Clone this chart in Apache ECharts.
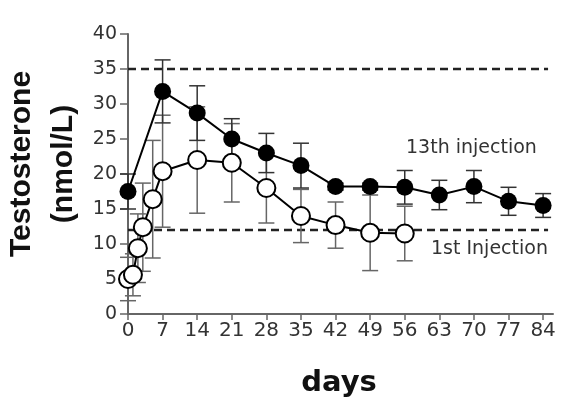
<!DOCTYPE html>
<html>
<head>
<meta charset="utf-8">
<script src="https://cdn.jsdelivr.net/npm/echarts@6/dist/echarts.min.js"></script>
<style>
  html, body { margin: 0; padding: 0; background: #fff; }
  #main { width: 567px; height: 401px; }
</style>
</head>
<body>
<div id="main"></div>
<script>
// 13th injection (filled circles)
var daysLate = [0, 7, 14, 21, 28, 35, 42, 49, 56, 63, 70, 77, 84];
var meanLate = [17.5, 31.8, 28.7, 25.0, 23.0, 21.2, 18.2, 18.2, 18.1, 17.0, 18.2, 16.1, 15.5];
var errLate  = [2.5, 4.5, 3.9, 2.9, 2.8, 3.2, 0.5, 0.5, 2.4, 2.1, 2.3, 2.0, 1.7];

// 1st injection (open circles)
var daysFirst = [0, 1, 2, 3, 5, 7, 14, 21, 28, 35, 42, 49, 56];
var meanFirst = [5.0, 5.6, 9.4, 12.4, 16.4, 20.4, 22.0, 21.6, 18.0, 14.0, 12.7, 11.6, 11.5];
var errFirst  = [3.1, 3.0, 4.9, 6.3, 8.4, 8.0, 7.6, 5.6, 5.0, 3.8, 3.3, 5.4, 3.9];

// reference range (dashed lines)
var rangeHigh = 35;
var rangeLow = 12;
var rangeDays = [0, 85];

var xTicks = [0, 7, 14, 21, 28, 35, 42, 49, 56, 63, 70, 77, 84];

function pairs(xs, ys) {
  return xs.map(function (x, i) { return [x, ys[i]]; });
}
function bars(xs, ys, es) {
  return xs.map(function (x, i) { return [x, ys[i] - es[i], ys[i] + es[i]]; });
}

function makeBar(color) {
  return function (params, api) {
    var x = api.value(0);
    var lo = api.coord([x, api.value(1)]);
    var hi = api.coord([x, api.value(2)]);
    var w = 8;
    var st = { stroke: color, lineWidth: 1.5 };
    return {
      type: 'group',
      children: [
        { type: 'line', shape: { x1: lo[0], y1: lo[1], x2: hi[0], y2: hi[1] }, style: st },
        { type: 'line', shape: { x1: lo[0] - w, y1: lo[1], x2: lo[0] + w, y2: lo[1] }, style: st },
        { type: 'line', shape: { x1: hi[0] - w, y1: hi[1], x2: hi[0] + w, y2: hi[1] }, style: st }
      ]
    };
  };
}

var chart = echarts.init(document.getElementById('main'));
chart.setOption({
  animation: false,
  backgroundColor: '#fff',
  grid: { left: 128, right: 14, top: 34, bottom: 87 },
  xAxis: {
    type: 'value',
    min: 0,
    max: 86,
    splitLine: { show: false },
    axisLine: { lineStyle: { color: '#666', width: 2 } },
    axisTick: { length: 6, customValues: xTicks, lineStyle: { color: '#666', width: 1.5 } },
    axisLabel: {
      customValues: xTicks,
      margin: 7,
      color: '#333',
      fontSize: 20,
      fontFamily: 'DejaVu Sans'
    }
  },
  yAxis: {
    type: 'value',
    min: 0,
    max: 40,
    interval: 5,
    splitLine: { show: false },
    axisLine: { show: true, lineStyle: { color: '#666', width: 2 } },
    axisTick: { show: true, length: 8, lineStyle: { color: '#666', width: 1.5 } },
    axisLabel: {
      margin: 11,
      color: '#333',
      fontSize: 19,
      fontFamily: 'DejaVu Sans'
    }
  },
  graphic: [
    {
      type: 'text', x: 43, y: 164, rotation: Math.PI / 2,
      style: {
        text: 'Testosterone\n(nmol/L)',
        fontSize: 30, fontWeight: 'bold', fontFamily: 'Liberation Sans',
        lineHeight: 42, fill: '#111', align: 'center', verticalAlign: 'middle'
      }
    },
    {
      type: 'text', x: 339, y: 383,
      style: {
        text: 'days', fontSize: 29, fontWeight: 'bold', fontFamily: 'DejaVu Sans',
        fill: '#111', align: 'center', verticalAlign: 'middle'
      }
    },
    {
      type: 'text', x: 406, y: 148,
      style: {
        text: '13th injection', fontSize: 19, fontFamily: 'DejaVu Sans',
        fill: '#333', align: 'left', verticalAlign: 'middle'
      }
    },
    {
      type: 'text', x: 431, y: 249,
      style: {
        text: '1st Injection', fontSize: 19, fontFamily: 'DejaVu Sans',
        fill: '#333', align: 'left', verticalAlign: 'middle'
      }
    }
  ],
  series: [
    {
      type: 'line', symbol: 'none', silent: true, z: 1,
      data: pairs(rangeDays, [rangeHigh, rangeHigh]),
      lineStyle: { color: '#222', width: 2.5, type: [8, 5] }
    },
    {
      type: 'line', symbol: 'none', silent: true, z: 1,
      data: pairs(rangeDays, [rangeLow, rangeLow]),
      lineStyle: { color: '#222', width: 2.5, type: [8, 5] }
    },
    {
      type: 'custom', z: 2,
      renderItem: makeBar('#666'),
      encode: { x: 0, y: [1, 2] },
      data: bars(daysFirst, meanFirst, errFirst)
    },
    {
      type: 'custom', z: 2,
      renderItem: makeBar('#333'),
      encode: { x: 0, y: [1, 2] },
      data: bars(daysLate, meanLate, errLate)
    },
    {
      name: '1st Injection', type: 'line', z: 3,
      data: pairs(daysFirst, meanFirst),
      symbol: 'circle', symbolSize: 18, showAllSymbol: true,
      lineStyle: { color: '#000', width: 2 },
      itemStyle: { color: '#fff', borderColor: '#000', borderWidth: 2 }
    },
    {
      name: '13th injection', type: 'line', z: 4,
      data: pairs(daysLate, meanLate),
      symbol: 'circle', symbolSize: 17, showAllSymbol: true,
      lineStyle: { color: '#000', width: 2 },
      itemStyle: { color: '#000' }
    }
  ]
});
</script>
</body>
</html>
